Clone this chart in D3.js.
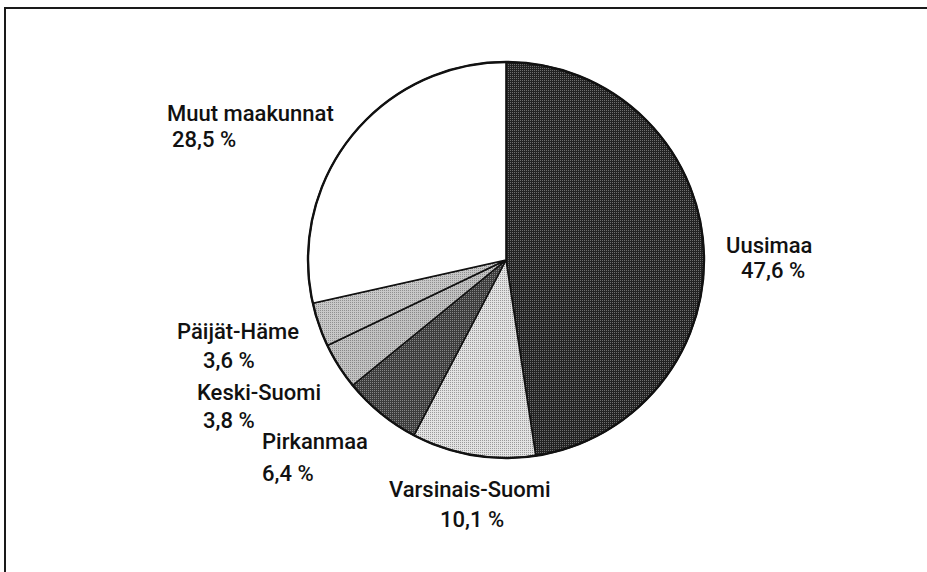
<!DOCTYPE html>
<html>
<head>
<meta charset="utf-8">
<script src="https://cdn.jsdelivr.net/npm/d3@7"></script>
<style>
  html, body { margin: 0; padding: 0; background: #fff; }
  svg { display: block; }
</style>
</head>
<body>
<div id="chart"></div>
<script>
// --- data ---
const regions = ['Uusimaa', 'Varsinais-Suomi', 'Pirkanmaa', 'Keski-Suomi', 'Päijät-Häme', 'Muut maakunnat'];
const shares = [47.6, 10.1, 6.4, 3.8, 3.6, 28.5];
const shareLabels = ['47,6 %', '10,1 %', '6,4 %', '3,8 %', '3,6 %', '28,5 %'];

// --- layout ---
const W = 927, H = 572;
const cx = 506, cy = 260, R = 198;

// halftone-ish fills: [base, dot]
const fills = [
    ['#222222', '#6e6e6e'],
    ['#e2e2e2', '#9a9a9a'],
    ['#3c3c3c', '#858585'],
    ['#c2c2c2', '#888888'],
    ['#c8c8c8', '#909090'],
    ['#ffffff', '#ffffff']
];

// label lines: [dx, dy] from the pie centre, first line then second line
const labelLayout = [
    [[220, -7], [235, 18]],
    [[-117, 237], [-66, 267]],
    [[-244, 189], [-244, 221]],
    [[-309, 140], [-303, 168]],
    [[-329, 79], [-303, 108]],
    [[-339, -139], [-334, -113]]
];

const svg = d3.select('#chart').append('svg')
    .attr('width', W)
    .attr('height', H);

// frame (only top and left edges are visible in the scan)
svg.append('line')
    .attr('x1', 4).attr('y1', 8).attr('x2', W).attr('y2', 8)
    .attr('stroke', '#1a1a1a').attr('stroke-width', 2);
svg.append('line')
    .attr('x1', 5).attr('y1', 8).attr('x2', 5).attr('y2', H)
    .attr('stroke', '#1a1a1a').attr('stroke-width', 2);

// dither patterns
const defs = svg.append('defs');
fills.forEach((f, i) => {
    const p = defs.append('pattern')
        .attr('id', 'fill' + i)
        .attr('width', 2).attr('height', 2)
        .attr('patternUnits', 'userSpaceOnUse');
    p.append('rect').attr('width', 2).attr('height', 2).attr('fill', f[0]);
    p.append('rect').attr('width', 1).attr('height', 1).attr('fill', f[1]);
});

const pie = d3.pie().sort(null).value(d => d)(shares);
const arc = d3.arc().innerRadius(0).outerRadius(R);

const g = svg.append('g').attr('transform', `translate(${cx},${cy})`);

g.selectAll('path.slice')
    .data(pie)
    .enter()
    .append('path')
    .attr('class', 'slice')
    .attr('d', arc)
    .attr('fill', (d, i) => `url(#fill${i})`)
    .attr('stroke', '#111')
    .attr('stroke-width', 1.6)
    .attr('stroke-linejoin', 'round');

// outer rim a little heavier
g.append('circle')
    .attr('r', R)
    .attr('fill', 'none')
    .attr('stroke', '#111')
    .attr('stroke-width', 2.4);

// labels
const labels = g.selectAll('text.label')
    .data(regions)
    .enter()
    .append('text')
    .attr('class', 'label')
    .attr('font-family', 'Roboto, "Liberation Sans", sans-serif')
    .attr('font-weight', 500)
    .attr('font-size', '22px')
    .attr('fill', '#111');

labels.append('tspan')
    .attr('x', (d, i) => labelLayout[i][0][0])
    .attr('y', (d, i) => labelLayout[i][0][1])
    .text(d => d);

labels.append('tspan')
    .attr('x', (d, i) => labelLayout[i][1][0])
    .attr('y', (d, i) => labelLayout[i][1][1])
    .text((d, i) => shareLabels[i]);
</script>
</body>
</html>
